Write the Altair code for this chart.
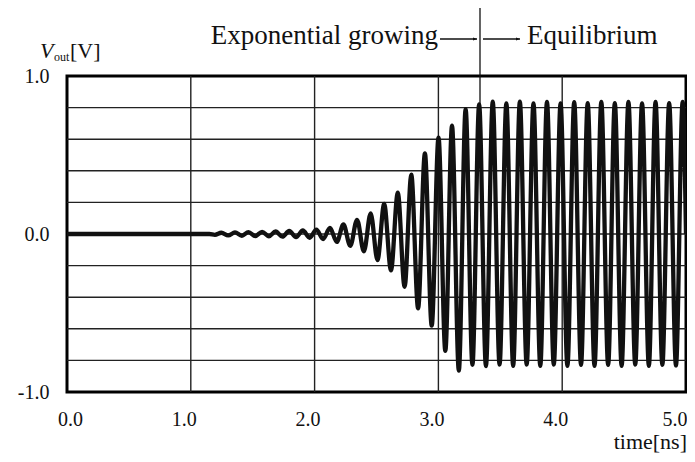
import altair as alt
import pandas as pd

# ---- data ----
lead_t = [0.0, 1.15, 1.195]
lead_v = [0.0, 0.0, -0.005]

peak_t = [1.247, 1.357, 1.466, 1.576, 1.685, 1.795, 1.905, 2.014, 2.124, 2.233,
          2.343, 2.453, 2.562, 2.672, 2.781, 2.891, 3.001, 3.110, 3.220, 3.329,
          3.439, 3.549, 3.658, 3.768, 3.877, 3.987, 4.097, 4.206, 4.316, 4.425,
          4.535, 4.645, 4.754, 4.864, 4.973]
peak_v = [0.008, 0.010, 0.012, 0.014, 0.016, 0.019, 0.022, 0.027, 0.038, 0.060,
          0.090, 0.130, 0.190, 0.262, 0.375, 0.510, 0.610, 0.685, 0.790, 0.820,
          0.838, 0.826, 0.838, 0.826, 0.836, 0.826, 0.834, 0.828, 0.836, 0.828,
          0.836, 0.826, 0.836, 0.828, 0.836]

trough_t = [1.302, 1.412, 1.521, 1.631, 1.740, 1.850, 1.960, 2.069, 2.179, 2.288,
            2.398, 2.508, 2.617, 2.727, 2.836, 2.946, 3.056, 3.165, 3.275, 3.384,
            3.494, 3.604, 3.713, 3.823, 3.932, 4.042, 4.152, 4.261, 4.371, 4.480,
            4.590, 4.700, 4.809, 4.919]
trough_v = [-0.009, -0.011, -0.013, -0.015, -0.017, -0.020, -0.024, -0.032, -0.050, -0.075,
            -0.110, -0.165, -0.230, -0.335, -0.470, -0.580, -0.740, -0.865, -0.828, -0.836,
            -0.826, -0.834, -0.826, -0.834, -0.826, -0.834, -0.828, -0.834, -0.828, -0.834,
            -0.826, -0.834, -0.828, -0.832]

end_t = [5.0]
end_v = [0.0]

x_ticks = [0, 1, 2, 3, 4, 5]
x_grid = [1, 2, 3, 4]
y_ticks = [-1, 0, 1]
y_grid = [-0.8, -0.6, -0.4, -0.2, 0.0, 0.2, 0.4, 0.6, 0.8]

marker_t = 3.336
marker_v = 0.82
arrow1 = (3.013, 3.312)
arrow2 = (3.360, 3.659)
label_left_t = 2.997
label_right_t = 3.716

# ---- build table ----
df = pd.DataFrame({
    "t": lead_t + peak_t + trough_t + end_t,
    "v": lead_v + peak_v + trough_v + end_v,
}).sort_values("t").reset_index(drop=True)

W, H = 619, 316
FONT = "Liberation Serif"
INK = "#111111"
GRID = "#222222"

xs = alt.Scale(domain=[0, 5], nice=False, zero=False)
ys = alt.Scale(domain=[-1, 1], nice=False, zero=False)

x_axis = alt.Axis(
    values=x_ticks, labelExpr="format(datum.value, '.1f')", grid=False,
    ticks=False, domain=False,
    labelFont=FONT, labelFontSize=20, labelColor=INK, labelPadding=17,
    labelAlign={"condition": {"test": "datum.value == 5", "value": "right"}, "value": "center"},
    labelOffset={"condition": [
        {"test": "datum.value == 5", "value": 1},
        {"test": "datum.value == 0", "value": 3},
    ], "value": -7},
    title=None)
y_axis = alt.Axis(
    values=y_ticks,
    labelExpr="datum.value == -1 ? '-1.0' : (datum.value == 0 ? '0.0' : '1.0')",
    grid=False, ticks=False, domain=False,
    labelFont=FONT, labelFontSize=20, labelColor=INK, labelPadding=18,
    title=None)

hgrid = alt.Chart(pd.DataFrame({"g": y_grid})).mark_rule(
    color=GRID, strokeWidth=1.4
).encode(y=alt.Y("g:Q", scale=ys, axis=y_axis))

vgrid = alt.Chart(pd.DataFrame({"g": x_grid})).mark_rule(
    color=GRID, strokeWidth=1.4
).encode(x=alt.X("g:Q", scale=xs, axis=x_axis))

line = alt.Chart(df).mark_line(
    color=INK, strokeWidth=4.3, interpolate="monotone", clip=True
).encode(
    x=alt.X("t:Q", scale=xs, axis=x_axis),
    y=alt.Y("v:Q", scale=ys, axis=y_axis),
)

mk = pd.DataFrame({"t": [marker_t], "v": [marker_v]})
marker = alt.Chart(mk).mark_rule(color=INK, strokeWidth=1.3, clip=False).encode(
    x=alt.X("t:Q", scale=xs, axis=x_axis), y=alt.Y("v:Q", scale=ys, axis=y_axis),
    y2=alt.value(-68)
)

arr = pd.DataFrame({"a": [arrow1[0], arrow2[0]], "b": [arrow1[1], arrow2[1]]})
arrow_shaft = alt.Chart(arr).mark_rule(color=INK, strokeWidth=1.3, clip=False).encode(
    x=alt.X("a:Q", scale=xs, axis=x_axis), x2="b:Q", y=alt.value(-37)
)
arrow_head = alt.Chart(arr).mark_point(
    shape="M0,0L-1,-0.38L-1,0.38Z", filled=True, color=INK, size=64, opacity=1, clip=False
).encode(x=alt.X("b:Q", scale=xs, axis=x_axis), y=alt.value(-37))

lab_l = alt.Chart(pd.DataFrame({"t": [label_left_t], "s": ["Exponential growing"]})).mark_text(
    font=FONT, fontSize=27, color=INK, align="right", baseline="alphabetic", clip=False
).encode(x=alt.X("t:Q", scale=xs, axis=x_axis), y=alt.value(-32), text="s:N")

lab_r = alt.Chart(pd.DataFrame({"t": [label_right_t], "s": ["Equilibrium"]})).mark_text(
    font=FONT, fontSize=27, color=INK, align="left", baseline="alphabetic", clip=False
).encode(x=alt.X("t:Q", scale=xs, axis=x_axis), y=alt.value(-32), text="s:N")

yt_v = alt.Chart(pd.DataFrame({"s": ["V"]})).mark_text(
    font=FONT, fontSize=22, fontStyle="italic", color=INK, align="left", baseline="alphabetic"
).encode(x=alt.value(-27), y=alt.value(-18), text="s:N")
yt_sub = alt.Chart(pd.DataFrame({"s": ["out"]})).mark_text(
    font=FONT, fontSize=12, color=INK, align="left", baseline="alphabetic"
).encode(x=alt.value(-13), y=alt.value(-15), text="s:N")
yt_unit = alt.Chart(pd.DataFrame({"s": ["[V]"]})).mark_text(
    font=FONT, fontSize=22, color=INK, align="left", baseline="alphabetic"
).encode(x=alt.value(3), y=alt.value(-18), text="s:N")

xt = alt.Chart(pd.DataFrame({"s": ["time[ns]"]})).mark_text(
    font=FONT, fontSize=22, color=INK, align="right", baseline="alphabetic"
).encode(x=alt.value(W + 1), y=alt.value(H + 57), text="s:N")

chart = alt.layer(
    hgrid, vgrid, line, marker, arrow_shaft, arrow_head, lab_l, lab_r,
    yt_v, yt_sub, yt_unit, xt
).properties(
    width=W, height=H,
    autosize=alt.AutoSizeParams(type="none"),
    padding={"left": 59, "top": 68, "right": 1, "bottom": 62},
).configure_view(stroke="#000000", strokeWidth=3)

chart.save("out.html", embed_options={"renderer": "svg", "actions": False})
